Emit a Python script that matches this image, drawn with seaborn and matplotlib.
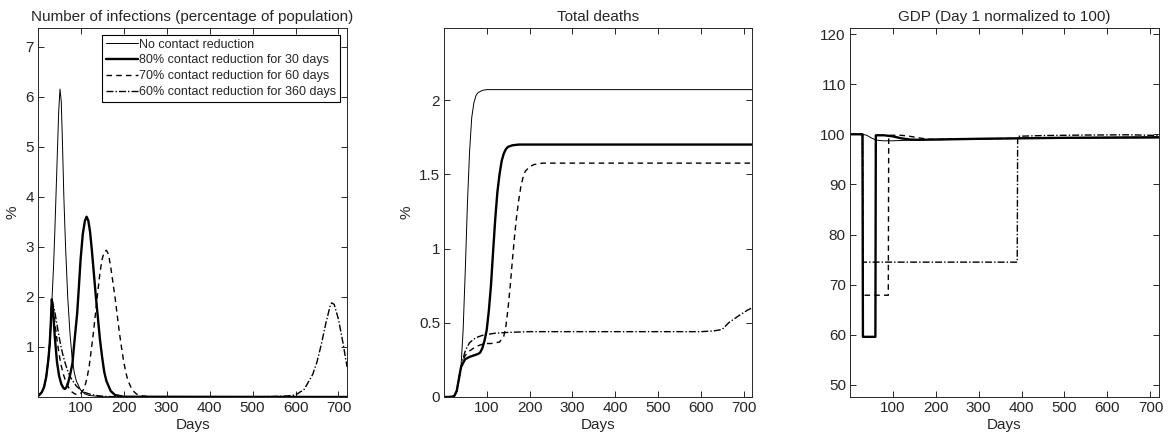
import matplotlib
matplotlib.use("Agg")
import matplotlib.pyplot as plt
import seaborn as sns

# =========================
# DATA
# =========================
labels = ["No contact reduction",
          "80% contact reduction for 30 days",
          "70% contact reduction for 60 days",
          "60% contact reduction for 360 days"]

# common start of the epidemic (before any contact reduction)
early_days = [1, 5, 10, 15, 20, 25, 28, 30, 32]
early_inf = [0.02, 0.05, 0.1, 0.2, 0.4, 0.75, 1.05, 1.35, 1.75]

# infections (% of population)
inf_none_days = [34, 37, 40, 43, 46, 49, 52, 55, 58, 61, 65, 70, 75, 80, 85,
                 90, 100, 110, 120, 150, 200, 720]
inf_none = [2.05, 2.6, 3.3, 4.1, 4.9, 5.7, 6.15, 5.9, 5.0, 4.0, 3.0, 2.0, 1.3,
            0.8, 0.5, 0.32, 0.14, 0.06, 0.03, 0.005, 0.0, 0.0]

inf_80_days = [33, 36, 40, 45, 50, 55, 60, 63, 66, 70, 75, 81, 85, 92, 96, 100,
               105, 110, 114, 118, 122, 126, 130, 135, 140, 145, 150, 155, 160,
               170, 180, 200, 720]
inf_80 = [1.95, 1.7, 1.2, 0.7, 0.42, 0.26, 0.18, 0.16, 0.18, 0.25, 0.42, 0.67,
          1.05, 1.67, 2.2, 2.75, 3.25, 3.52, 3.6, 3.52, 3.3, 2.95, 2.55, 2.05,
          1.6, 1.15, 0.8, 0.5, 0.32, 0.12, 0.04, 0.005, 0.0]

inf_70_days = [33, 36, 40, 45, 50, 55, 60, 65, 70, 75, 80, 85, 90, 95, 100, 105,
               110, 115, 120, 125, 130, 135, 140, 145, 150, 155, 160, 165, 170,
               175, 180, 185, 190, 195, 200, 205, 210, 220, 230, 240, 260, 300, 720]
inf_70 = [1.95, 1.8, 1.5, 1.15, 0.85, 0.62, 0.45, 0.32, 0.22, 0.15, 0.1, 0.07,
          0.05, 0.05, 0.07, 0.12, 0.22, 0.38, 0.62, 0.95, 1.3, 1.7, 2.1, 2.48,
          2.75, 2.9, 2.93, 2.85, 2.6, 2.3, 2.0, 1.65, 1.3, 1.0, 0.72, 0.5, 0.33,
          0.14, 0.06, 0.025, 0.005, 0.0, 0.0]

inf_60_days = [33, 36, 40, 45, 50, 55, 60, 65, 70, 75, 80, 90, 100, 110, 120,
               140, 160, 200, 400, 500, 550, 580, 600, 620, 640, 650, 660, 670,
               680, 684, 690, 700, 710, 720]
inf_60 = [1.95, 1.85, 1.7, 1.45, 1.2, 0.98, 0.8, 0.65, 0.52, 0.42, 0.34, 0.22,
          0.14, 0.09, 0.06, 0.025, 0.01, 0.003, 0.001, 0.003, 0.01, 0.02, 0.04,
          0.15, 0.45, 0.7, 1.05, 1.45, 1.8, 1.88, 1.85, 1.55, 1.1, 0.6]

# total deaths (%)
early_dth_days = [1, 10, 20, 25, 30, 35, 40]
early_dth = [0.0, 0.0, 0.002, 0.01, 0.04, 0.12, 0.2]

dth_none_days = [45, 50, 55, 60, 65, 70, 75, 80, 90, 100, 720]
dth_none = [0.45, 0.85, 1.3, 1.65, 1.88, 1.98, 2.03, 2.05, 2.065, 2.07, 2.07]

dth_80_days = [45, 50, 60, 70, 80, 85, 90, 95, 100, 105, 110, 115, 120, 125,
               130, 135, 140, 145, 150, 160, 175, 720]
dth_80 = [0.23, 0.255, 0.27, 0.28, 0.29, 0.30, 0.33, 0.38, 0.45, 0.58, 0.75,
          0.98, 1.2, 1.38, 1.5, 1.59, 1.64, 1.67, 1.685, 1.695, 1.70, 1.70]

dth_70_days = [45, 50, 60, 70, 80, 90, 100, 110, 120, 130, 140, 145, 150, 155,
               160, 165, 170, 175, 180, 185, 190, 200, 210, 230, 720]
dth_70 = [0.25, 0.28, 0.31, 0.33, 0.345, 0.355, 0.36, 0.36, 0.365, 0.37, 0.41,
          0.48, 0.6, 0.75, 0.92, 1.08, 1.22, 1.33, 1.42, 1.48, 1.52, 1.55,
          1.565, 1.575, 1.575]

dth_60_days = [45, 50, 55, 60, 70, 80, 90, 100, 120, 150, 200, 600, 630, 650,
               665, 690, 710, 720]
dth_60 = [0.26, 0.31, 0.34, 0.365, 0.39, 0.405, 0.415, 0.42, 0.43, 0.435, 0.44,
          0.44, 0.445, 0.455, 0.5, 0.55, 0.587, 0.6]

# GDP (day 1 = 100)
gdp_none_days = [1, 30, 40, 50, 60, 70, 80, 100, 130, 160, 200, 300, 400, 500, 720]
gdp_none = [100, 100, 99.8, 99.3, 98.9, 98.75, 98.7, 98.7, 98.8, 98.9, 99.0,
            99.1, 99.2, 99.25, 99.3]

gdp_80_days = [1, 30, 31, 60, 61, 80, 100, 120, 140, 160, 200, 300, 400, 500, 720]
gdp_80 = [100, 100, 59.6, 59.6, 99.8, 99.8, 99.6, 99.2, 98.95, 98.9, 98.95,
          99.1, 99.2, 99.3, 99.4]

gdp_70_days = [1, 30, 31, 90, 91, 120, 140, 160, 180, 200, 300, 400, 500, 720]
gdp_70 = [100, 100, 67.9, 67.9, 99.8, 99.8, 99.6, 99.3, 99.05, 98.95, 99.1,
          99.2, 99.3, 99.4]

gdp_60_days = [1, 30, 31, 390, 391, 450, 550, 650, 700, 720]
gdp_60 = [100, 100, 74.5, 74.5, 99.6, 99.75, 99.85, 99.9, 99.8, 99.7]

# =========================
# STYLE
# =========================
sns.set_theme(style="ticks")
plt.rcParams["font.family"] = ["Liberation Sans", "DejaVu Sans"]
plt.rcParams.update({
    "font.size": 11,
    "axes.linewidth": 0.7,
    "axes.edgecolor": "#262626",
    "text.color": "#262626",
    "axes.labelcolor": "#262626",
    "xtick.color": "#262626",
    "ytick.color": "#262626",
})

styles = [dict(lw=0.7, ls="-"),
          dict(lw=1.7, ls="-"),
          dict(lw=1.0, ls=(0, (4, 3))),
          dict(lw=1.0, ls=(0, (5, 1.5, 1, 1.5)))]


def draw(ax, series):
    for (xs, ys), lab, st in zip(series, labels, styles):
        sns.lineplot(x=xs, y=ys, ax=ax, color="black", label=lab,
                     estimator=None, sort=False, legend=False, **st)


fig = plt.figure(figsize=(11.71, 4.41), dpi=100)
ax1 = fig.add_axes([0.0325, 0.0998, 0.2639, 0.8367])
ax2 = fig.add_axes([0.3794, 0.0998, 0.2630, 0.8367])
ax3 = fig.add_axes([0.7259, 0.0998, 0.2639, 0.8367])

# A) infections
draw(ax1, [(early_days + inf_none_days, early_inf + inf_none),
           (early_days + inf_80_days, early_inf + inf_80),
           (early_days + inf_70_days, early_inf + inf_70),
           (early_days + inf_60_days, early_inf + inf_60)])
ax1.set_ylim(0, 7.37)
ax1.set_yticks([1, 2, 3, 4, 5, 6, 7])
ax1.set_title("Number of infections (percentage of population)", fontsize=11, pad=5)
ax1.set_ylabel("%", fontsize=11)
leg = ax1.legend(loc="upper right", fontsize=9, frameon=True, fancybox=False,
                 framealpha=1, edgecolor="black", borderaxespad=0.55,
                 handlelength=2.6, handletextpad=0.1, labelspacing=0.3,
                 borderpad=0.3)
leg.get_frame().set_linewidth(0.8)

# B) deaths
draw(ax2, [(early_dth_days + dth_none_days, early_dth + dth_none),
           (early_dth_days + dth_80_days, early_dth + dth_80),
           (early_dth_days + dth_70_days, early_dth + dth_70),
           (early_dth_days + dth_60_days, early_dth + dth_60)])
ax2.set_ylim(0, 2.485)
ax2.set_yticks([0, 0.5, 1, 1.5, 2])
ax2.set_yticklabels(["0", "0.5", "1", "1.5", "2"])
ax2.set_title("Total deaths", fontsize=11, pad=5)
ax2.set_ylabel("%", fontsize=11)

# C) GDP
draw(ax3, [(gdp_none_days, gdp_none), (gdp_80_days, gdp_80),
           (gdp_70_days, gdp_70), (gdp_60_days, gdp_60)])
ax3.set_ylim(47.6, 121.2)
ax3.set_yticks(range(50, 121, 10))
ax3.set_title("GDP (Day 1 normalized to 100)", fontsize=11, pad=5)
ax3.set_ylabel("")

for ax in (ax1, ax2, ax3):
    ax.set_xlim(1, 720)
    ax.set_xticks(range(100, 701, 100))
    ax.set_xlabel("Days", fontsize=11, labelpad=2)
    ax.tick_params(axis="both", which="both", direction="in", length=4,
                   width=0.7, top=True, right=True, labelsize=11, pad=3)
    for sp in ax.spines.values():
        sp.set_visible(True)

fig.savefig("out.png", dpi=100)
